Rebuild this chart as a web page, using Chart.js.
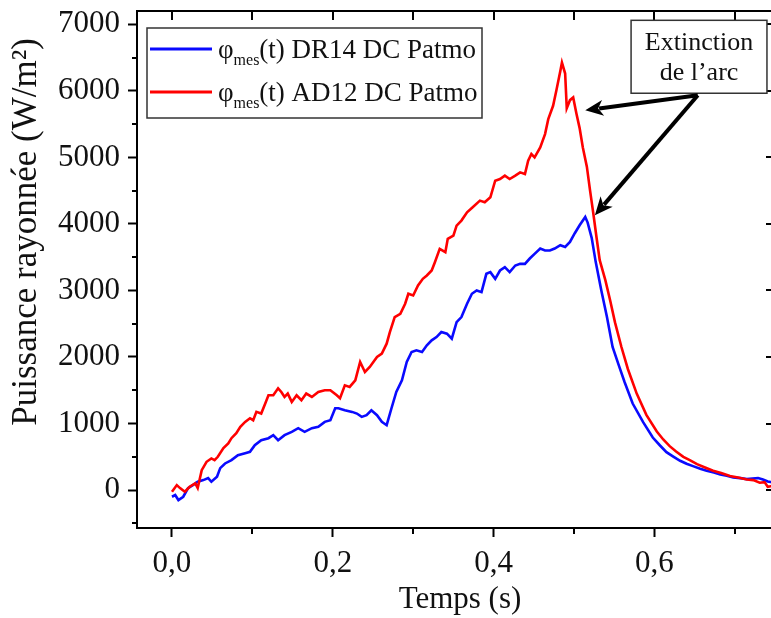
<!DOCTYPE html>
<html>
<head>
<meta charset="utf-8">
<script src="https://cdn.jsdelivr.net/npm/chart.js@4.4.1/dist/chart.umd.min.js"></script>
<style>
html, body { margin: 0; padding: 0; background: #fff; overflow: hidden; }
canvas { display: block; }
</style>
</head>
<body>
<canvas id="myChart" width="780" height="618"></canvas>
<script>
// DR14 DC Patmo (blue)
var tBlue = [0.000, 0.004, 0.008, 0.014, 0.020, 0.026, 0.032, 0.039, 0.045, 0.049, 0.056, 0.060, 0.066, 0.074, 0.082, 0.091, 0.097,
  0.103, 0.111, 0.120, 0.126, 0.132, 0.140, 0.149, 0.157, 0.165, 0.174, 0.182, 0.190, 0.197, 0.203, 0.207, 0.215, 0.224, 0.230,
  0.236, 0.242, 0.248, 0.255, 0.261, 0.267, 0.273, 0.279, 0.286, 0.292, 0.298, 0.304, 0.311, 0.317, 0.323, 0.329, 0.335, 0.342,
  0.348, 0.354, 0.360, 0.367, 0.373, 0.379, 0.385, 0.391, 0.396, 0.402, 0.408, 0.414, 0.420, 0.427, 0.433, 0.439, 0.445, 0.451,
  0.458, 0.464, 0.470, 0.476, 0.483, 0.489, 0.495, 0.501, 0.507, 0.514, 0.517, 0.522, 0.527, 0.534, 0.541, 0.548, 0.555, 0.563,
  0.573, 0.586, 0.598, 0.607, 0.615, 0.624, 0.632, 0.640, 0.648, 0.657, 0.665, 0.674, 0.682, 0.690, 0.698, 0.707, 0.715, 0.722,
  0.729, 0.735, 0.741, 0.750];
var vBlue = [-100, -75, -150, -100, 30, 75, 125, 150, 180, 125, 200, 330, 400, 450, 525, 555, 575,
  675, 750, 780, 825, 750, 825, 875, 930, 875, 930, 950, 1025, 1050, 1230, 1230, 1200, 1175, 1150,
  1100, 1125, 1200, 1125, 1025, 975, 1230, 1475, 1650, 1925, 2075, 2100, 2075, 2175, 2250, 2300, 2375, 2350,
  2275, 2525, 2600, 2800, 2950, 3000, 2975, 3250, 3275, 3175, 3300, 3350, 3275, 3375, 3400, 3400, 3480, 3550,
  3630, 3600, 3600, 3630, 3680, 3655, 3730, 3860, 3980, 4105, 4020, 3790, 3430, 3000, 2600, 2150, 1900, 1620,
  1300, 1020, 790, 670, 570, 500, 440, 395, 360, 320, 290, 265, 235, 215, 190, 180, 165, 175,
  180, 160, 130, 110];

// AD12 DC Patmo (red)
var tRed = [0.000, 0.006, 0.010, 0.016, 0.022, 0.029, 0.032, 0.037, 0.043, 0.049, 0.053, 0.057, 0.064, 0.070, 0.074, 0.080, 0.085,
  0.091, 0.097, 0.101, 0.105, 0.111, 0.116, 0.120, 0.126, 0.132, 0.136, 0.140, 0.144, 0.149, 0.155, 0.161, 0.167, 0.174, 0.182,
  0.190, 0.197, 0.205, 0.209, 0.215, 0.221, 0.228, 0.234, 0.240, 0.246, 0.255, 0.261, 0.267, 0.271, 0.277, 0.284, 0.290, 0.294,
  0.300, 0.306, 0.312, 0.317, 0.323, 0.327, 0.333, 0.340, 0.343, 0.350, 0.354, 0.360, 0.367, 0.374, 0.383, 0.389, 0.396, 0.402,
  0.408, 0.414, 0.420, 0.427, 0.433, 0.439, 0.443, 0.447, 0.451, 0.458, 0.464, 0.468, 0.474, 0.478, 0.483, 0.485, 0.489, 0.491,
  0.495, 0.499, 0.503, 0.507, 0.511, 0.516, 0.520, 0.524, 0.528, 0.532, 0.539, 0.545, 0.551, 0.559, 0.567, 0.578, 0.590, 0.603,
  0.611, 0.619, 0.627, 0.636, 0.644, 0.653, 0.663, 0.673, 0.683, 0.694, 0.704, 0.715, 0.723, 0.731, 0.737, 0.741, 0.746, 0.750];
var vRed = [-25, 75, 30, -25, 50, 100, 30, 300, 425, 475, 450, 500, 630, 700, 780, 855, 950,
  1025, 1080, 1050, 1175, 1150, 1300, 1425, 1425, 1530, 1475, 1400, 1450, 1325, 1425, 1350, 1450, 1400, 1475,
  1500, 1500, 1425, 1380, 1575, 1550, 1650, 1925, 1775, 1850, 2000, 2050, 2200, 2375, 2600, 2650, 2800, 2950,
  2925, 3075, 3175, 3225, 3300, 3425, 3625, 3575, 3775, 3825, 3975, 4050, 4175, 4250, 4350, 4325, 4400, 4650,
  4675, 4725, 4675, 4725, 4775, 4750, 4950, 5050, 5000, 5150, 5350, 5575, 5775, 6000, 6300, 6425, 6260, 5740,
  5860, 5900, 5660, 5440, 5150, 4860, 4500, 4160, 3800, 3455, 3155, 2850, 2520, 2150, 1820, 1450, 1130, 880,
  760, 660, 580, 500, 450, 390, 340, 290, 255, 210, 190, 160, 150, 110, 120, 50, 60, 0];

var labelBlue = 'DR14 DC Patmo';
var labelRed = 'AD12 DC Patmo';
var xMajor = [0, 0.2, 0.4, 0.6];
var xMinor = [0.1, 0.3, 0.5, 0.7];
var yMajor = [0, 1000, 2000, 3000, 4000, 5000, 6000, 7000];
var yMinor = [-500, 500, 1500, 2500, 3500, 4500, 5500, 6500];
var noteText = ['Extinction', 'de l\u2019arc'];
// note box corners and arrows, in data units (t, value)
var noteBox = [0.571, 7060, 0.740, 5964];
var arrowStart = [0.654, 5934];
var arrowEnds = [[0.514, 5708], [0.526, 4131]];

var serif = '"Liberation Serif", "Times New Roman", serif';

function pts(t, v) {
    return t.map(function (x, i) { return { x: x, y: v[i] }; });
}

function arrow(ctx, x0, y0, x1, y1) {
    var ang = Math.atan2(y1 - y0, x1 - x0);
    var L = 18, W = 8;
    var bx = x1 - L * Math.cos(ang), by = y1 - L * Math.sin(ang);
    ctx.beginPath();
    ctx.moveTo(x0, y0);
    ctx.lineTo(bx + 4 * Math.cos(ang), by + 4 * Math.sin(ang));
    ctx.stroke();
    ctx.beginPath();
    ctx.moveTo(x1, y1);
    ctx.lineTo(bx + W * Math.sin(ang), by - W * Math.cos(ang));
    ctx.lineTo(bx + 5 * Math.cos(ang), by + 5 * Math.sin(ang));
    ctx.lineTo(bx - W * Math.sin(ang), by + W * Math.cos(ang));
    ctx.closePath();
    ctx.fill();
}

var extras = {
    id: 'extras',
    afterDraw: function (chart) {
        var ctx = chart.ctx, a = chart.chartArea;
        var xs = chart.scales.x, ys = chart.scales.y;
        ctx.save();
        ctx.strokeStyle = '#000';
        ctx.fillStyle = '#000';
        ctx.lineWidth = 2;
        // top and right frame
        ctx.beginPath();
        ctx.moveTo(a.left, a.top);
        ctx.lineTo(a.right, a.top);
        ctx.lineTo(a.right, a.bottom);
        ctx.stroke();
        // minor ticks
        ctx.beginPath();
        xMinor.forEach(function (v) {
            var px = Math.round(xs.getPixelForValue(v));
            ctx.moveTo(px, a.bottom);
            ctx.lineTo(px, a.bottom + 6);
        });
        yMinor.forEach(function (v) {
            var py = Math.round(ys.getPixelForValue(v));
            ctx.moveTo(a.left, py);
            ctx.lineTo(a.left - 5, py);
        });
        // top ticks, inward
        xMajor.concat(xMinor).forEach(function (v) {
            var px = Math.round(xs.getPixelForValue(v));
            ctx.moveTo(px, a.top);
            ctx.lineTo(px, a.top + 9);
        });
        // right ticks, inward
        yMajor.forEach(function (v) {
            var py = Math.round(ys.getPixelForValue(v));
            ctx.moveTo(a.right, py);
            ctx.lineTo(a.right - 9, py);
        });
        ctx.stroke();

        // axis titles
        ctx.fillStyle = '#111';
        ctx.textAlign = 'center';
        ctx.textBaseline = 'middle';
        ctx.font = '31px ' + serif;
        ctx.fillText('Temps (s)', 460, 600);
        ctx.save();
        ctx.translate(27, 232);
        ctx.rotate(-Math.PI / 2);
        ctx.font = '35px ' + serif;
        ctx.fillText('Puissance rayonn\u00e9e (W/m\u00b2)', 0, 0);
        ctx.restore();

        // legend
        var lx = 147, ly = 28, lw = 335, lh = 90;
        ctx.fillStyle = '#fff';
        ctx.fillRect(lx, ly, lw, lh);
        ctx.strokeStyle = '#333';
        ctx.lineWidth = 1.5;
        ctx.strokeRect(lx, ly, lw, lh);
        var rows = [49, 92];
        chart.data.datasets.forEach(function (ds, i) {
            var y = rows[i];
            ctx.strokeStyle = ds.borderColor;
            ctx.lineWidth = 3;
            ctx.beginPath();
            ctx.moveTo(150, y);
            ctx.lineTo(212, y);
            ctx.stroke();
            ctx.fillStyle = '#111';
            ctx.textAlign = 'left';
            ctx.textBaseline = 'alphabetic';
            var x = 218, base = y + 9;
            ctx.font = '27px ' + serif;
            ctx.fillText('\u03c6', x, base);
            x += ctx.measureText('\u03c6').width;
            ctx.font = '16px ' + serif;
            ctx.fillText('mes', x, base + 7);
            x += ctx.measureText('mes').width;
            ctx.font = '27px ' + serif;
            ctx.fillText('(t) ' + ds.label, x, base);
        });

        // note box and arrows
        var bx0 = xs.getPixelForValue(noteBox[0]), by0 = ys.getPixelForValue(noteBox[1]);
        var bx1 = xs.getPixelForValue(noteBox[2]), by1 = ys.getPixelForValue(noteBox[3]);
        ctx.fillStyle = '#fff';
        ctx.fillRect(bx0, by0, bx1 - bx0, by1 - by0);
        ctx.strokeStyle = '#333';
        ctx.lineWidth = 1.5;
        ctx.strokeRect(bx0, by0, bx1 - bx0, by1 - by0);
        ctx.fillStyle = '#111';
        ctx.textAlign = 'center';
        ctx.textBaseline = 'middle';
        ctx.font = '26px ' + serif;
        var cx = (bx0 + bx1) / 2;
        ctx.fillText(noteText[0], cx, by0 + 23);
        ctx.fillText(noteText[1], cx, by0 + 53);

        ctx.strokeStyle = '#000';
        ctx.fillStyle = '#000';
        ctx.lineWidth = 4;
        var sx = xs.getPixelForValue(arrowStart[0]), sy = ys.getPixelForValue(arrowStart[1]);
        arrowEnds.forEach(function (e) {
            arrow(ctx, sx, sy, xs.getPixelForValue(e[0]), ys.getPixelForValue(e[1]));
        });
        ctx.restore();
    }
};

var ctx = document.getElementById('myChart').getContext('2d');
var myChart = new Chart(ctx, {
    type: 'line',
    data: {
        datasets: [{
            label: labelBlue,
            data: pts(tBlue, vBlue),
            borderColor: 'rgb(10, 10, 255)',
            borderWidth: 2.6,
            pointRadius: 0,
            tension: 0,
            order: 1
        }, {
            label: labelRed,
            data: pts(tRed, vRed),
            borderColor: 'rgb(255, 0, 0)',
            borderWidth: 2.6,
            pointRadius: 0,
            tension: 0,
            order: 0
        }]
    },
    options: {
        responsive: false,
        animation: false,
        devicePixelRatio: 1,
        layout: { padding: { top: 11, right: 5, left: 0, bottom: 0 } },
        plugins: { legend: { display: false }, tooltip: { enabled: false } },
        scales: {
            x: {
                type: 'linear',
                min: -0.0435,
                max: 0.75,
                afterBuildTicks: function (s) { s.ticks = xMajor.map(function (v) { return { value: v }; }); },
                afterFit: function (s) { s.height = 90; s.paddingLeft = 0; s.paddingRight = 0; },
                grid: { drawOnChartArea: false, tickLength: 9, tickWidth: 2, color: '#000' },
                border: { color: '#000', width: 2 },
                ticks: {
                    font: { family: serif, size: 31 },
                    color: '#111',
                    padding: 8,
                    maxRotation: 0,
                    autoSkip: false,
                    callback: function (v) { return v.toFixed(1).replace('.', ','); }
                }
            },
            y: {
                min: -570,
                max: 7200,
                afterBuildTicks: function (s) { s.ticks = yMajor.map(function (v) { return { value: v }; }); },
                afterFit: function (s) { s.width = 137; s.paddingTop = 0; s.paddingBottom = 0; },
                grid: { drawOnChartArea: false, tickLength: 9, tickWidth: 2, color: '#000' },
                border: { color: '#000', width: 2 },
                ticks: {
                    font: { family: serif, size: 31 },
                    color: '#111',
                    padding: 8,
                    autoSkip: false,
                    callback: function (v) { return String(v); }
                }
            }
        }
    },
    plugins: [extras]
});
</script>
</body>
</html>
